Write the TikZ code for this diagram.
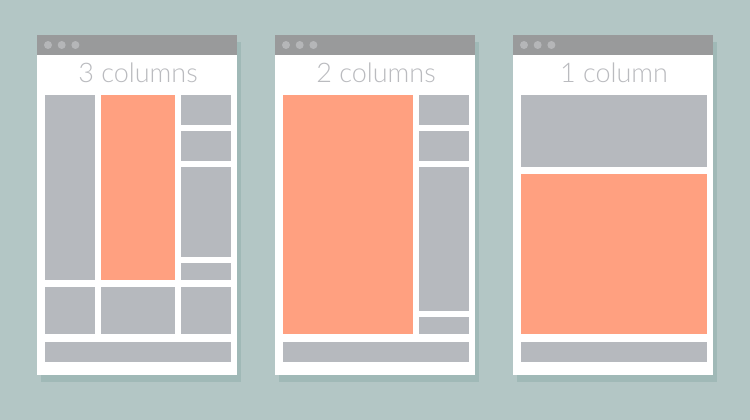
\documentclass[tikz,border=0pt]{standalone}
\usepackage{fontspec}
\newfontfamily\titlefont{Lato Light}
\definecolor{bgcol}{HTML}{B3C6C5}
\definecolor{shadowcol}{HTML}{A0B9B7}
\definecolor{barcol}{HTML}{999A9B}
\definecolor{dotcol}{HTML}{B5B6B8}
\definecolor{blockcol}{HTML}{B6B9BE}
\definecolor{accentcol}{HTML}{FFA080}
\definecolor{titlecol}{HTML}{BABBBF}
\tikzset{
  block/.style={fill=blockcol},
  accent/.style={fill=accentcol},
  wintitle/.style={anchor=base, inner sep=0pt, text=titlecol, font=\titlefont\fontsize{27}{27}\selectfont},
}
% one browser window: left edge #1, right edge #2 (px)
\newcommand{\browserwin}[2]{%
  \fill[shadowcol] (#1+4,42) rectangle (#2+4,382);
  \fill[white] (#1,35) rectangle (#2,375);
  \fill[barcol] (#1,35) rectangle (#2,55);
  \foreach \d in {0,1,2} \fill[dotcol] (#1+11+13.7*\d,45) circle (4);
}
\begin{document}
\begin{tikzpicture}[x=1pt,y=-1pt]
\fill[bgcol] (0,0) rectangle (750,420);
\useasboundingbox (0,0) rectangle (750,420);

% three columns
\browserwin{37}{237}
\node[wintitle] (title3) at (138,83) {3 columns};
\fill[block]  (45,95)  rectangle (95,280);
\fill[accent] (101,95) rectangle (175,280);
\fill[block]  (181,95) rectangle (231,125);
\fill[block]  (181,131) rectangle (231,161);
\fill[block]  (181,167) rectangle (231,257);
\fill[block]  (181,263) rectangle (231,280);
\fill[block]  (45,287) rectangle (95,334);
\fill[block]  (101,287) rectangle (175,334);
\fill[block]  (181,287) rectangle (231,334);
\fill[block]  (45,342) rectangle (231,362);

% two columns
\browserwin{275}{475}
\node[wintitle] (title2) at (376,83) {2 columns};
\fill[accent] (283,95) rectangle (413,334);
\fill[block]  (419,95) rectangle (469,125);
\fill[block]  (419,131) rectangle (469,161);
\fill[block]  (419,167) rectangle (469,311);
\fill[block]  (419,317) rectangle (469,334);
\fill[block]  (283,342) rectangle (469,362);

% one column
\browserwin{513}{713}
\node[wintitle] (title1) at (614,83) {1 column};
\fill[block]  (521,95) rectangle (707,167);
\fill[accent] (521,174) rectangle (707,334);
\fill[block]  (521,342) rectangle (707,362);
\end{tikzpicture}
\end{document}
